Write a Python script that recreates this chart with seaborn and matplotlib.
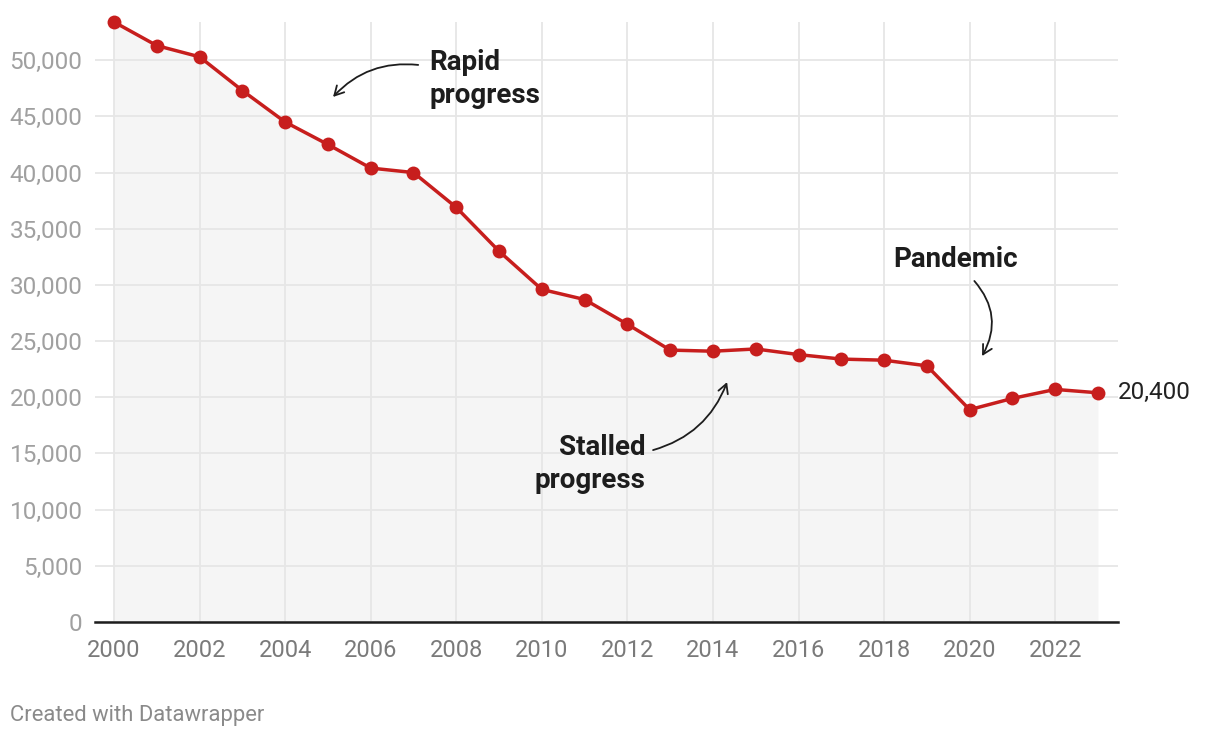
import matplotlib
matplotlib.use("Agg")
import matplotlib.pyplot as plt
import seaborn as sns
import pandas as pd
from matplotlib.ticker import FuncFormatter

years = list(range(2000, 2024))
values = [53400, 51300, 50300, 47300, 44500, 42500, 40400, 40000, 36900, 33000,
          29600, 28700, 26500, 24200, 24100, 24300, 23800, 23400, 23300, 22800,
          18900, 19900, 20700, 20400]
x_ticks = list(range(2000, 2023, 2))
y_ticks = list(range(0, 50001, 5000))
end_label = "20,400"

sns.set_theme(style="white")
plt.rcParams["font.family"] = ["Roboto", "DejaVu Sans"]

df = pd.DataFrame({"year": years, "value": values})

fig = plt.figure(figsize=(12.2, 7.38), dpi=100)
ax = fig.add_axes([95 / 1220, 1 - 622 / 738, (1118 - 95) / 1220, (622 - 22) / 738])

red = "#c71e1d"
dark = "#1d1d1d"

ax.fill_between(df["year"], df["value"], 0, color="#f5f5f5", zorder=0.2, linewidth=0)
sns.lineplot(data=df, x="year", y="value", ax=ax, color=red, linewidth=2.5,
             marker="o", markersize=10, markeredgewidth=0, zorder=3, clip_on=False)

ax.set_xlim(2000 - 19 / 42.77, 2023 + 20 / 42.77)
ax.set_ylim(0, max(values))
ax.set_xticks(x_ticks)
ax.set_yticks(y_ticks)
ax.yaxis.set_major_formatter(FuncFormatter(lambda v, p: f"{int(v):,}"))
ax.grid(True, color="#e6e6e6", linewidth=1.3)
ax.set_axisbelow("line")
ax.set_xlabel("")
ax.set_ylabel("")

for s in ["top", "right", "left"]:
    ax.spines[s].set_visible(False)
ax.spines["bottom"].set_color(dark)
ax.spines["bottom"].set_linewidth(1.8)
ax.spines["bottom"].set_zorder(4)

ax.tick_params(axis="y", length=0, pad=9, labelsize=17.5, labelcolor="#a0a0a0")
ax.tick_params(axis="x", length=0, pad=12, labelsize=17, labelcolor="#7a7a7a")

ax.text(2023.47, 20400, end_label, ha="left", va="center", fontsize=17.5,
        color="#222222", clip_on=False)

ann_kw = dict(fontsize=20, fontweight="bold", color=dark, linespacing=1.3)
arrow = dict(arrowstyle="->,head_length=0.55,head_width=0.3", color=dark, lw=1.3,
             shrinkA=0, shrinkB=0)

ax.text(2007.365, 48300, "Rapid\nprogress", ha="left", va="center", **ann_kw)
ax.annotate("", xy=(2005.12, 46730), xytext=(2007.11, 49580),
            arrowprops=dict(connectionstyle="arc3,rad=0.25", **arrow))

ax.text(2012.415, 14050, "Stalled\nprogress", ha="right", va="center", **ann_kw)
ax.annotate("", xy=(2014.33, 21350), xytext=(2012.60, 15300),
            arrowprops=dict(connectionstyle="arc3,rad=0.25", **arrow))

ax.text(2019.66, 32250, "Pandemic", ha="center", va="center", **ann_kw)
ax.annotate("", xy=(2020.29, 23670), xytext=(2020.11, 30350),
            arrowprops=dict(connectionstyle="arc3,rad=-0.35", **arrow))

fig.text(10 / 1220, 1 - 716 / 738, "Created with Datawrapper", ha="left", va="center",
         fontsize=15.8, color="#8a8a8a")

fig.savefig("out.png", dpi=100)
